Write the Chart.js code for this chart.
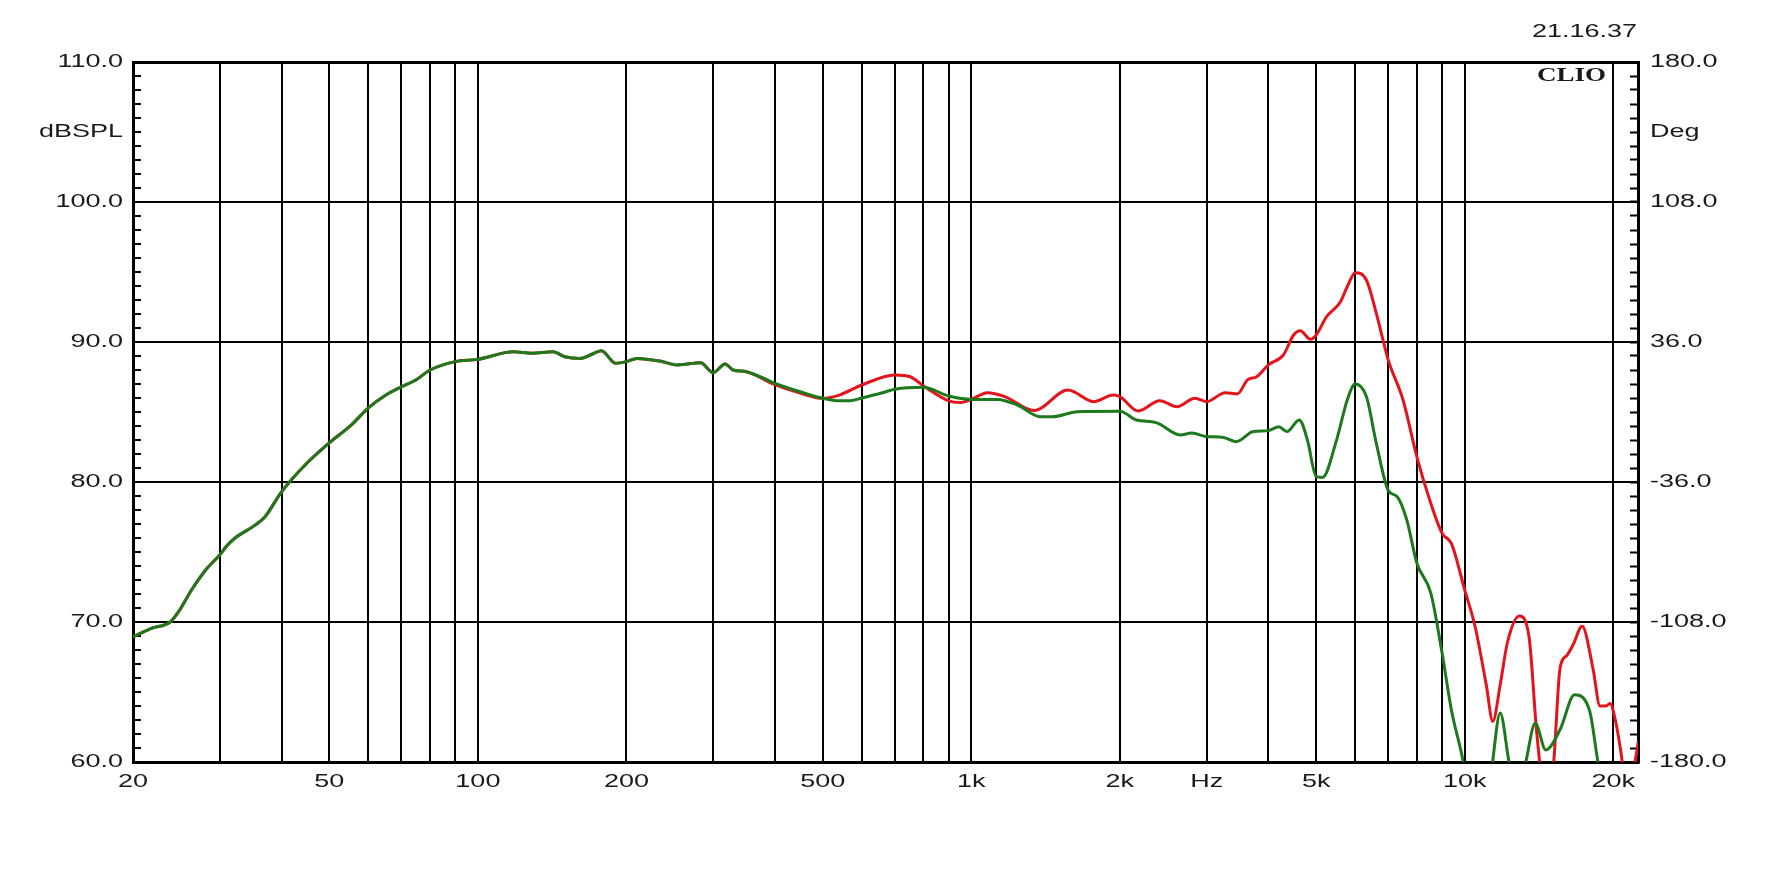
<!DOCTYPE html>
<html>
<head>
<meta charset="utf-8">
<script src="https://cdn.jsdelivr.net/npm/chart.js@4.4.1/dist/chart.umd.min.js"></script>
<style>
  html, body { margin: 0; padding: 0; background: #fff; }
  #wrap { width: 1772px; height: 886px; }
</style>
</head>
<body>
<div id="wrap"><canvas id="clioChart"></canvas></div>
<script>
// shared low end (both curves overlap below ~350 Hz)
const commonFreq = [20, 21.8, 23.8, 24.7, 26.3, 28.2, 30, 30.9, 32.2, 35.3, 37, 40, 44.6, 50, 55.5, 60, 65, 70, 75, 80,
  90, 100, 113.6, 118, 128.6, 142, 150, 161, 169, 178, 190, 200, 210, 234, 254, 282.6, 300, 317, 329, 350];
const commonDb = [68.95, 69.55, 70.0, 70.7, 72.3, 73.8, 74.8, 75.4, 76.0, 76.9, 77.5, 79.3, 81.2, 82.8, 84.1, 85.3, 86.2, 86.8, 87.3, 88.0,
  88.6, 88.76, 89.24, 89.3, 89.2, 89.3, 88.95, 88.83, 89.07, 89.38, 88.48, 88.6, 88.83, 88.64, 88.36, 88.52, 87.81, 88.43, 88.0, 87.88];

const greenFreq = [400, 450, 500, 540, 566, 600, 650, 700, 800, 900, 1000, 1130, 1240, 1380, 1460, 1640, 2000, 2160, 2370, 2650,
  2800, 3000, 3230, 3440, 3730, 4000, 4200, 4360, 4620, 4800, 5000, 5150, 5500, 5780, 6000, 6320, 6620, 7000, 7300, 7630,
  8000, 8540, 9000, 9400, 9900, 10500, 11000, 11400, 11800, 12300, 12800, 13300, 13900, 14600, 15600, 16700, 17900, 18600, 19500];
const greenDb = [87.05, 86.45, 85.98, 85.8, 85.8, 86.0, 86.3, 86.62, 86.76, 86.14, 85.9, 85.9, 85.5, 84.66, 84.66, 85.02, 85.05, 84.43, 84.24, 83.36,
  83.5, 83.24, 83.2, 82.88, 83.6, 83.67, 83.95, 83.6, 84.43, 83.0, 80.4, 80.33, 83.0, 85.86, 87.0, 86.1, 82.76, 79.4, 78.95, 77.3,
  74.2, 72.05, 67.76, 63.7, 60.26, 55, 55, 60.1, 63.5, 60.0, 57.5, 60.0, 62.76, 60.86, 62.3, 64.8, 63.7, 60.1, 56];

const redFreq = [400, 450, 500, 540, 600, 700, 752, 800, 900, 946, 1000, 1078, 1170, 1340, 1570, 1770, 1940, 2000, 2180, 2410,
  2610, 2840, 3000, 3270, 3460, 3630, 3790, 4000, 4290, 4500, 4640, 4870, 5000, 5250, 5600, 5780, 6000, 6320, 6620, 7000,
  7500, 8000, 8460, 9000, 9400, 10000, 10500, 11060, 11400, 11800, 12200, 12900, 13500, 14000, 14500, 15100, 15600, 16100, 16600, 17300,
  18200, 18800, 19300, 19700, 20200, 20700, 21300, 22000, 22500];
const redDb = [86.95, 86.35, 85.98, 86.21, 86.93, 87.64, 87.52, 86.86, 85.79, 85.67, 85.9, 86.38, 86.1, 85.1, 86.57, 85.74, 86.21, 86.1, 85.07, 85.81,
  85.38, 85.98, 85.74, 86.38, 86.29, 87.29, 87.52, 88.36, 89.07, 90.5, 90.81, 90.19, 90.5, 91.81, 92.88, 93.95, 94.95, 94.43, 92.05, 88.71,
  85.86, 81.8, 78.9, 76.33, 75.6, 72.3, 69.66, 65.5, 62.9, 65.5, 68.5, 70.43, 68.95, 62.05, 58, 59.5, 66.66, 67.6, 68.4, 69.7,
  66.66, 64.0, 64.0, 64.17, 63.0, 60.86, 58, 59.5, 61.5];

// axes
const freqGrid = [20, 30, 40, 50, 60, 70, 80, 90, 100, 200, 300, 400, 500, 600, 700, 800, 900,
  1000, 2000, 3000, 4000, 5000, 6000, 7000, 8000, 9000, 10000, 20000];
const freqLabelValues = [20, 50, 100, 200, 500, 1000, 2000, 3000, 5000, 10000, 20000];
const freqLabelTexts = ['20', '50', '100', '200', '500', '1k', '2k', 'Hz', '5k', '10k', '20k'];
const dbMajor = [60, 70, 80, 90, 100, 110];
const degMajor = [-180, -108, -36, 36, 108, 180];
const dbUnit = 'dBSPL';
const degUnit = 'Deg';
const timeStamp = '21.16.37';
const brandText = 'CLIO';

const textStretch = 1.5;

function points(freqs, values) {
  return freqs.map((f, i) => ({ x: f, y: values[i] }));
}

// the CLIO picture has all its lettering stretched sideways
const stretchText = {
  id: 'stretchText',
  beforeDraw(chart) {
    const ctx = chart.ctx;
    if (ctx.$stretched) return;
    const plain = ctx.fillText;
    ctx.fillText = function (text, x, y, maxWidth) {
      this.save();
      this.translate(x, y);
      this.scale(textStretch, 1);
      if (maxWidth === undefined) plain.call(this, text, 0, 0);
      else plain.call(this, text, 0, 0, maxWidth / textStretch);
      this.restore();
    };
    ctx.$stretched = true;
  },
  afterDraw(chart) {
    const { ctx, chartArea } = chart;
    ctx.save();
    ctx.fillStyle = '#1a1a1a';
    ctx.textAlign = 'right';
    ctx.textBaseline = 'middle';
    ctx.font = '18px "Liberation Sans"';
    ctx.fillText(timeStamp, chartArea.right - 1, chartArea.top - 30);
    ctx.font = 'bold 18px "Liberation Serif"';
    ctx.fillText(brandText, chartArea.right - 32, chartArea.top + 14);
    ctx.restore();
  }
};

Chart.defaults.font.family = '"Liberation Sans", Arial, sans-serif';
Chart.defaults.font.size = 18;
Chart.defaults.color = '#1a1a1a';

const ctx = document.getElementById('clioChart').getContext('2d');
new Chart(ctx, {
  type: 'line',
  data: {
    datasets: [
      {
        data: points(commonFreq.concat(greenFreq), commonDb.concat(greenDb)),
        borderColor: '#1c7a1c',
        borderWidth: 3,
        order: 0
      },
      {
        data: points(commonFreq.concat(redFreq), commonDb.concat(redDb)),
        borderColor: '#e3141c',
        borderWidth: 3,
        order: 1
      }
    ]
  },
  options: {
    responsive: true,
    maintainAspectRatio: false,
    animation: false,
    parsing: true,
    layout: { padding: { top: 62, left: 0, right: 0, bottom: 0 } },
    elements: {
      point: { radius: 0 },
      line: { cubicInterpolationMode: 'monotone' }
    },
    datasets: { line: { clip: 0 } },
    plugins: { legend: { display: false }, tooltip: { enabled: false } },
    scales: {
      x: {
        type: 'logarithmic',
        min: 20,
        max: 22450,
        afterBuildTicks: (scale) => { scale.ticks = freqGrid.map(v => ({ value: v })); },
        afterFit: (scale) => { scale.height = 124; },
        grid: { color: '#000', lineWidth: 2, drawTicks: false },
        border: { display: true, color: '#000', width: 3 },
        ticks: {
          autoSkip: false,
          maxRotation: 0,
          padding: 9,
          callback: (value) => {
            const i = freqLabelValues.indexOf(value);
            return i >= 0 ? freqLabelTexts[i] : '';
          }
        }
      },
      y: {
        type: 'linear',
        position: 'left',
        min: dbMajor[0],
        max: dbMajor[dbMajor.length - 1],
        afterBuildTicks: (scale) => {
          const ticks = [];
          for (let v = dbMajor[0]; v <= dbMajor[dbMajor.length - 1]; v++) ticks.push({ value: v });
          scale.ticks = ticks;
        },
        afterFit: (scale) => { scale.width = 133; },
        grid: {
          color: (c) => dbMajor.includes(c.tick.value) ? '#000' : 'rgba(0,0,0,0)',
          lineWidth: (c) => c.tick.value === 110 ? 3 : 2,
          tickColor: '#000',
          tickWidth: 2,
          tickLength: -8
        },
        border: { display: true, color: '#000', width: 3 },
        ticks: {
          autoSkip: false,
          padding: 18,
          callback: (value) => {
            if (dbMajor.includes(value)) return value.toFixed(1);
            if (value === 105) return dbUnit;
            return '';
          }
        }
      },
      deg: {
        type: 'linear',
        position: 'right',
        min: degMajor[0],
        max: degMajor[degMajor.length - 1],
        afterBuildTicks: (scale) => {
          const ticks = [];
          const step = (degMajor[1] - degMajor[0]) / 10;
          for (let i = 0; i <= 50; i++) ticks.push({ value: Math.round((degMajor[0] + i * step) * 10) / 10 });
          scale.ticks = ticks;
        },
        afterFit: (scale) => { scale.width = 134; },
        grid: {
          drawOnChartArea: false,
          tickColor: '#000',
          tickWidth: 2,
          tickLength: -8
        },
        border: { display: true, color: '#000', width: 3 },
        ticks: {
          autoSkip: false,
          padding: 20,
          callback: (value, index) => {
            if (index % 10 === 0) return value.toFixed(1);
            if (index === 45) return degUnit;
            return '';
          }
        }
      }
    }
  },
  plugins: [stretchText]
});
</script>
</body>
</html>
